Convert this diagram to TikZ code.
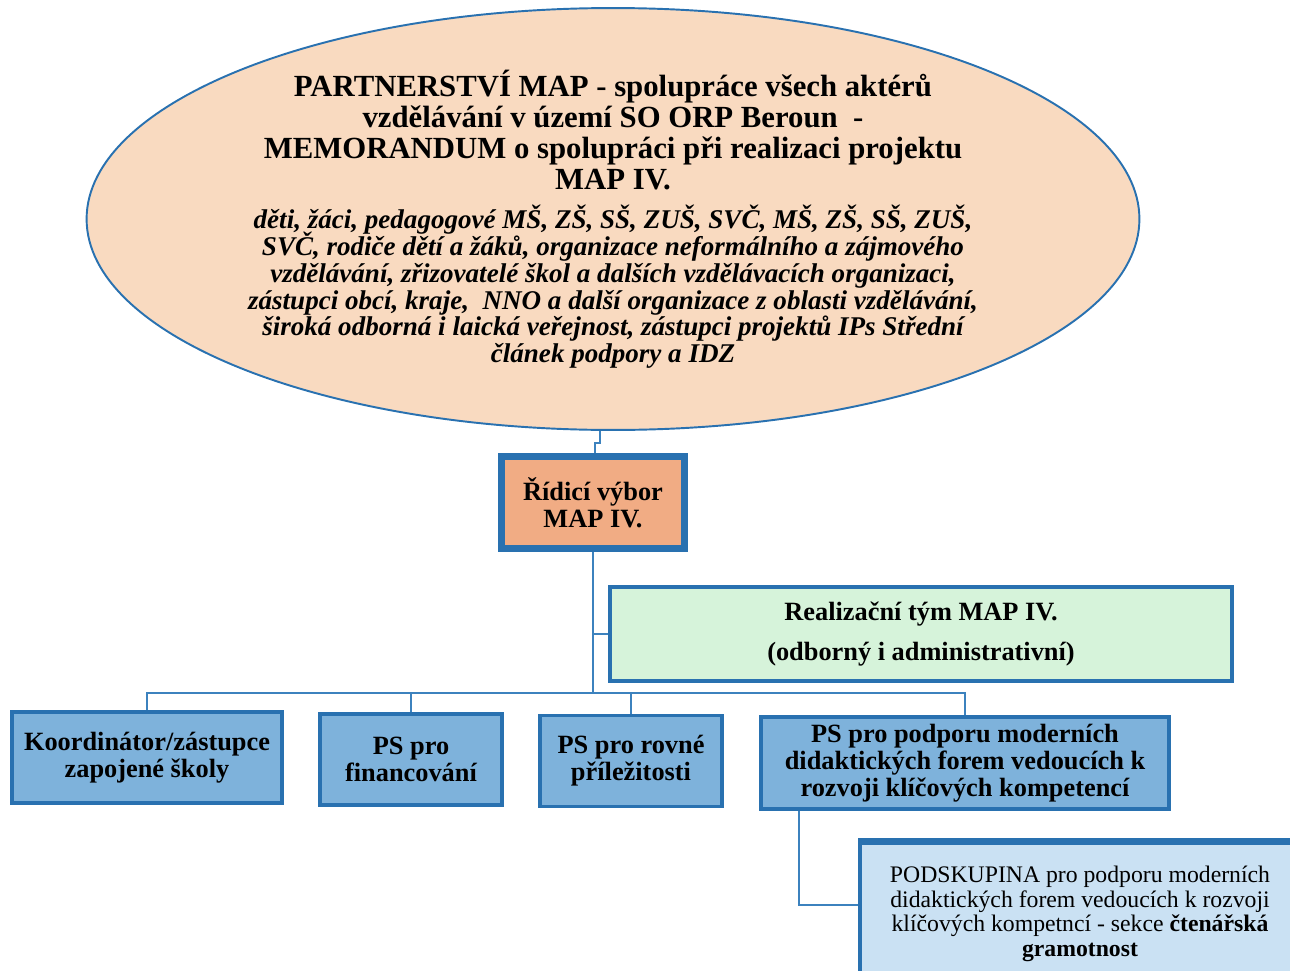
\documentclass[tikz,border=0pt]{standalone}
\usepackage{fontspec}
\setmainfont{Liberation Serif}
\usetikzlibrary{shapes.geometric}
\definecolor{peach}{RGB}{249,218,192}
\definecolor{salmon}{RGB}{241,172,132}
\definecolor{mint}{RGB}{214,243,218}
\definecolor{psblue}{RGB}{126,178,219}
\definecolor{paleblue}{RGB}{202,225,243}
\definecolor{mapblue}{RGB}{41,113,176}
\definecolor{lineblue}{RGB}{60,130,190}
\begin{document}
\begin{tikzpicture}[x=0.02cm,y=-0.02cm,
	line/.style={draw=lineblue,line width=1.1pt},
	box/.style={draw=mapblue,line width=1.8pt,fill=psblue,align=center,inner sep=0pt,minimum height=1.82cm,font=\fontsize{15}{15.5}\selectfont\bfseries},
	subbox/.style={draw=mapblue,line width=1.8pt,fill=paleblue,align=center,inner sep=0pt,font=\fontsize{13.5}{14}\selectfont}]
	\useasboundingbox (0,0) rectangle (1290,970);
	\clip (0,0) rectangle (1290,970);
	\node[ellipse,draw=mapblue,line width=1.1pt,fill=peach,minimum width=21.06cm,minimum height=8.44cm,inner sep=-0.6cm,text width=16cm,align=flush center,font=\fontsize{17.5}{17.8}\selectfont\bfseries] (partn) at (613,219)
	{\lineskiplimit=-20pt PARTNERSTVÍ MAP - spolupráce všech aktérů\\ vzdělávání v území SO ORP Beroun~~-\\ MEMORANDUM o spolupráci při realizaci projektu\\ MAP IV.\par\vspace{7pt}
	\fontsize{15.4}{15.2}\selectfont\itshape děti, žáci, pedagogové MŠ, ZŠ, SŠ, ZUŠ, SVČ, MŠ, ZŠ, SŠ, ZUŠ,\\ SVČ, rodiče dětí a žáků, organizace neformálního a zájmového\\ vzdělávání, zřizovatelé škol a dalších vzdělávacích organizaci,\\ zástupci obcí, kraje,~~NNO a další organizace z oblasti vzdělávání,\\ široká odborná i laická veřejnost, zástupci projektů IPs Střední\\ článek podpory a IDZ\par};
	\node[box,fill=salmon,line width=3.8pt,minimum width=3.66cm,minimum height=1.84cm] (ridici) at (593,502.5) {Řídicí výbor\\ MAP IV.};
	\node[box,fill=mint,minimum width=12.44cm,minimum height=1.88cm,font=\fontsize{15}{22.7}\selectfont\bfseries] (realiz) at (921,634) {Realizační tým MAP IV.\\ (odborný i administrativní)};
	\node[box,minimum width=5.4cm] (koord) at (147,757.5) {Koordinátor/zástupce\\ zapojené školy};
	\node[box,minimum width=3.64cm] (fin) at (411,759.5) {PS pro\\ financování};
	\node[box,minimum width=3.64cm] (rovne) at (631,761) {PS pro rovné\\ příležitosti};
	\node[box,minimum width=8.16cm,minimum height=1.84cm] (podpora) at (965,763) {PS pro podporu moderních\\ didaktických forem vedoucích k\\ rozvoji klíčových kompetencí};
	\node[subbox,minimum width=8.8cm,minimum height=2.84cm] (podsk) at (1080,914) {PODSKUPINA pro podporu moderních\\ didaktických forem vedoucích k rozvoji\\ klíčových kompetncí - sekce \textbf{čtenářská}\\ \textbf{gramotnost}};
	\draw[mapblue,line width=3.5pt] (podsk.north west)--(podsk.north east);
	% connectors
	\path (593,693) coordinate (bus);
	\draw[line] ([xshift=-0.26cm]partn.south)--++(0,12)-|([xshift=0.04cm]ridici.north);
	\draw[line] (ridici.south)--(bus);
	\draw[line] (realiz.west)--(realiz.west-|bus);
	\foreach \n in {koord,fin,rovne,podpora}\draw[line] (bus)-|(\n.north);
	\draw[line] ([xshift=0.8cm]podpora.south west)|-([yshift=0.18cm]podsk.west);
\end{tikzpicture}
\end{document}
